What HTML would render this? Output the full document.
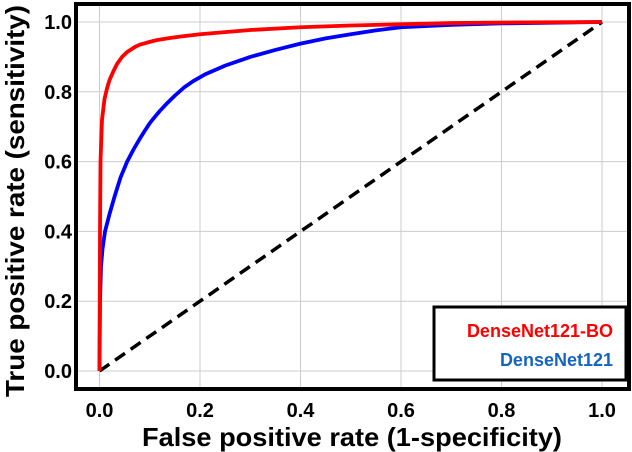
<!DOCTYPE html>
<html><head><meta charset="utf-8"><style>
body{margin:0;background:#fff}
svg{display:block;font-family:"Liberation Sans",sans-serif;font-weight:bold}
</style></head><body>
<svg id="chart" width="632" height="452"></svg>
<script>
const xTicks=[0,0.2,0.4,0.6,0.8,1.0];
const yTicks=[0,0.2,0.4,0.6,0.8,1.0];
const tickLabels=["0.0","0.2","0.4","0.6","0.8","1.0"];
const redFpr=[0,0.001,0.002,0.005,0.01,0.015,0.02,0.028,0.035,0.045,0.055,0.07,0.08,0.1,0.114,0.14,0.16,0.2,0.25,0.3,0.4,0.5,0.7,0.85,1];
const redTpr=[0,0.4,0.6,0.72,0.78,0.81,0.834,0.86,0.88,0.9,0.914,0.928,0.935,0.943,0.948,0.954,0.958,0.965,0.971,0.977,0.985,0.99,0.997,0.999,1];
const blueFpr=[0,0.001,0.003,0.006,0.011,0.02,0.03,0.042,0.055,0.067,0.08,0.09,0.1,0.11,0.12,0.135,0.15,0.168,0.186,0.21,0.25,0.3,0.35,0.4,0.45,0.5,0.55,0.6,0.7,0.8,1];
const blueTpr=[0,0.2,0.3,0.35,0.4,0.45,0.5,0.555,0.6,0.633,0.665,0.688,0.71,0.728,0.745,0.768,0.789,0.812,0.83,0.85,0.875,0.9,0.92,0.938,0.953,0.965,0.976,0.985,0.992,0.996,1];
const NS="http://www.w3.org/2000/svg";
const svg=document.getElementById('chart');
const X=v=>99.5+v*502.5, Y=v=>371-v*349;
function mk(t,a,txt){const e=document.createElementNS(NS,t);for(const k in a)e.setAttribute(k,a[k]);if(txt!==undefined)e.textContent=txt;svg.appendChild(e);return e;}
xTicks.forEach((t,i)=>{
 let g=mk('line',{x1:X(t),x2:X(t),y1:4,y2:389,stroke:'#cccccc','stroke-width':1});
 
 
 let l=mk('text',{x:X(t),y:417,'text-anchor':'middle','font-size':20},tickLabels[i]);
 
 
});
yTicks.forEach((t,i)=>{
 let g=mk('line',{x1:76,x2:630,y1:Y(t),y2:Y(t),stroke:'#cccccc','stroke-width':1});
 
 
 let l=mk('text',{x:72,y:Y(t)+7,'text-anchor':'end','font-size':20},tickLabels[i]);
 
 
});
let d=mk('line',{x1:X(0),y1:Y(0),x2:X(1),y2:Y(1),stroke:'#000','stroke-width':3.5,'stroke-dasharray':'12,7'});


function path(xs,ys,c,n){
 let p=mk('polyline',{points:xs.map((v,i)=>X(v)+','+Y(ys[i])).join(' '),fill:'none',stroke:c,'stroke-width':3.8,'stroke-linejoin':'round'});
 
 
}
path(blueFpr,blueTpr,'#0000ff','densenet121-curve');
path(redFpr,redTpr,'#ff0000','densenet121-bo-curve');
let f=mk('rect',{x:76,y:4,width:553,height:385,fill:'none',stroke:'#000','stroke-width':4});


let lg=mk('rect',{x:434,y:307,width:192,height:73,fill:'#fff',stroke:'#000','stroke-width':3});


let l1=mk('text',{x:613,y:337,'text-anchor':'end','font-size':18,fill:'#ff0000'},'DenseNet121-BO');


let l2=mk('text',{x:613,y:366,'text-anchor':'end','font-size':18,fill:'#1565c0'},'DenseNet121');


let xt=mk('text',{x:352,y:446,'text-anchor':'middle','font-size':26,textLength:420,lengthAdjust:'spacingAndGlyphs'},'False positive rate (1-specificity)');


let yt=mk('text',{x:0,y:0,'text-anchor':'middle','font-size':26,textLength:392,lengthAdjust:'spacingAndGlyphs',transform:'translate(24,201) rotate(-90)'},'True positive rate (sensitivity)');


</script>
</body></html>
